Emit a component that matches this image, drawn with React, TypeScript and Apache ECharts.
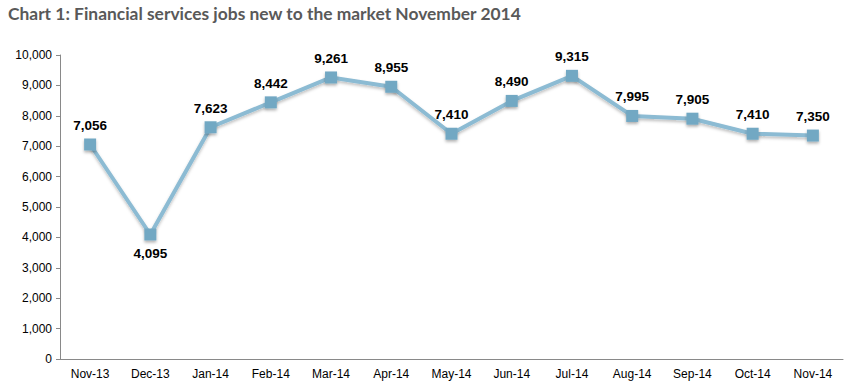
import React, { useEffect, useRef } from "react";
import * as echarts from "echarts";

const categories = ["Nov-13", "Dec-13", "Jan-14", "Feb-14", "Mar-14", "Apr-14", "May-14", "Jun-14", "Jul-14", "Aug-14", "Sep-14", "Oct-14", "Nov-14"];
const jobs = [7056, 4095, 7623, 8442, 9261, 8955, 7410, 8490, 9315, 7995, 7905, 7410, 7350];
const titleText = "Chart 1: Financial services jobs new to the market November 2014";

export default function App() {
  const ref = useRef<HTMLDivElement>(null);
  useEffect(() => {
    const chart = echarts.init(ref.current!, null, { renderer: "svg" });
    chart.setOption({
      animation: false,
      title: {
        text: titleText,
        left: 3,
        top: 0,
        textStyle: { fontFamily: "Lato", fontWeight: "bold", fontSize: 17.4, color: "#595959" },
      },
      grid: { left: 60, right: 21, top: 55, bottom: 31 },
      xAxis: {
        type: "category",
        data: categories,
        boundaryGap: true,
        axisLine: { lineStyle: { color: "#898989" } },
        axisTick: { lineStyle: { color: "#898989" }, length: 4 },
        axisLabel: { color: "#000", fontFamily: "Liberation Sans", fontSize: 12, margin: 9 },
      },
      yAxis: {
        type: "value",
        min: 0,
        max: 10000,
        interval: 1000,
        splitLine: { show: false },
        axisLine: { show: true, lineStyle: { color: "#898989" } },
        axisTick: { show: true, lineStyle: { color: "#898989" }, length: 4 },
        axisLabel: {
          color: "#000",
          fontFamily: "Liberation Sans",
          fontSize: 12,
          margin: 8,
          formatter: (v: number) => v.toLocaleString("en-US"),
        },
      },
      series: [
        {
          type: "line",
          data: jobs.map((v, i) => ({
            value: v,
            label: { position: i === 1 ? "bottom" : "top" },
          })),
          symbol: "rect",
          symbolSize: 12,
          lineStyle: {
            color: "#8CBBD3",
            width: 4,
            shadowColor: "rgba(0,0,0,0.25)",
            shadowBlur: 3,
            shadowOffsetY: 2,
          },
          itemStyle: {
            color: "#72A8C3",
            borderWidth: 0,
            shadowColor: "rgba(0,0,0,0.3)",
            shadowBlur: 3,
            shadowOffsetY: 2,
          },
          label: {
            show: true,
            distance: 6,
            fontFamily: "Liberation Sans",
            fontWeight: "bold",
            fontSize: 13.5,
            color: "#000",
            formatter: (p: any) => Number(p.value).toLocaleString("en-US"),
          },
        },
      ],
    });
    return () => chart.dispose();
  }, []);
  return <div ref={ref} style={{ position: "absolute", left: 0, top: 0, width: 864, height: 390 }} />;
}
